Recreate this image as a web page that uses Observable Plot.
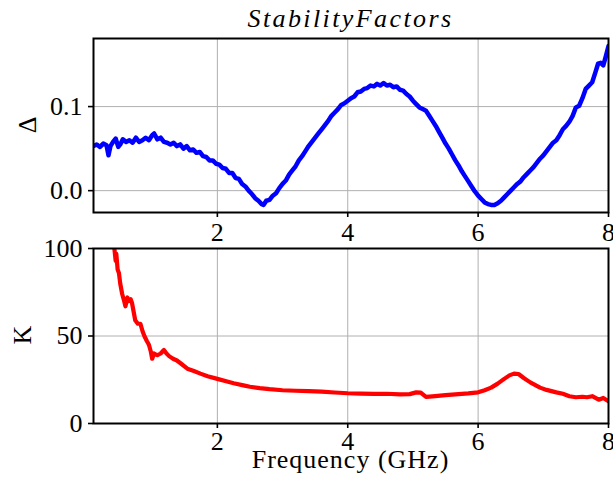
<!DOCTYPE html>
<html>
<head>
<meta charset="utf-8">
<script src="https://cdn.jsdelivr.net/npm/d3@7"></script>
<script src="https://cdn.jsdelivr.net/npm/@observablehq/plot@0.6"></script>
<style>
  html, body { margin: 0; padding: 0; background: #fff; }
  #chart { position: relative; width: 613px; height: 493px; overflow: hidden; color: #000; }
  #chart svg { position: absolute; left: 0; }
  #chart, #chart svg, #chart svg text, .lbl { font-family: "Liberation Serif", "Times New Roman", Tinos, "DejaVu Serif", serif !important; }
  .lbl { position: absolute; font-size: 26px; line-height: 1; white-space: nowrap; }
</style>
</head>
<body>
<div id="chart">
  <div class="lbl" id="title" style="left:93px; width:515px; top:6px; text-align:center; font-style:italic; letter-spacing:2.4px;">StabilityFactors</div>
  <div class="lbl" id="ylab1" style="left:28px; top:125px; transform:translate(-50%,-50%) rotate(-90deg);">Δ</div>
  <div class="lbl" id="ylab2" style="left:23px; top:335px; transform:translate(-50%,-50%) rotate(-90deg);">K</div>
  <div class="lbl" id="xlab" style="left:93px; width:515px; top:447px; text-align:center; letter-spacing:1px;">Frequency (GHz)</div>
</div>
<script>
// ---- data ----
const freqDelta = [0.10,0.15,0.20,0.25,0.30,0.33,0.36,0.40,0.44,0.48,0.51,0.55,0.60,0.65,0.70,0.75,0.80,0.85,0.90,0.95,
  1.00,1.03,1.08,1.13,1.18,1.23,1.28,1.33,1.38,1.43,1.48,1.53,1.58,1.63,1.68,1.73,1.78,1.83,1.88,1.93,1.98,
  2.03,2.08,2.13,2.18,2.23,2.28,2.33,2.38,2.43,2.48,2.53,2.58,2.63,2.68,2.71,2.75,2.80,2.85,2.90,2.95,
  3.00,3.05,3.10,3.15,3.20,3.25,3.30,3.35,3.40,3.45,3.50,3.55,3.60,3.65,3.70,3.75,3.80,3.85,3.90,3.95,
  4.00,4.05,4.10,4.15,4.20,4.25,4.30,4.35,4.40,4.45,4.50,4.55,4.60,4.65,4.70,4.75,4.80,4.85,4.90,4.95,
  5.00,5.05,5.10,5.15,5.20,5.25,5.30,5.35,5.40,5.45,5.50,5.55,5.60,5.65,5.70,5.75,5.80,5.85,5.90,5.95,
  6.00,6.05,6.10,6.15,6.20,6.25,6.30,6.35,6.40,6.45,6.50,6.55,6.60,6.65,6.70,6.75,6.80,6.85,6.90,6.95,
  7.00,7.05,7.10,7.15,7.20,7.25,7.30,7.35,7.40,7.45,7.50,7.55,7.60,7.65,7.70,7.75,7.80,7.84,7.88,7.92,7.96,8.00];
const delta = [0.053,0.055,0.052,0.056,0.054,0.042,0.053,0.058,0.062,0.052,0.055,0.061,0.058,0.060,0.057,0.063,0.058,0.060,0.063,0.060,
  0.066,0.068,0.061,0.063,0.058,0.057,0.055,0.057,0.053,0.055,0.050,0.053,0.048,0.049,0.045,0.046,0.041,0.040,0.036,0.036,0.032,
  0.031,0.027,0.026,0.021,0.021,0.015,0.014,0.008,0.005,0.000,-0.004,-0.009,-0.012,-0.016,-0.017,-0.012,-0.011,-0.006,-0.003,0.003,
  0.008,0.012,0.019,0.024,0.029,0.036,0.041,0.047,0.053,0.058,0.063,0.068,0.073,0.078,0.083,0.089,0.093,0.097,0.102,0.104,
  0.107,0.110,0.112,0.117,0.118,0.121,0.122,0.125,0.124,0.127,0.125,0.128,0.125,0.126,0.123,0.124,0.120,0.119,0.115,0.112,
  0.107,0.103,0.099,0.097,0.095,0.089,0.083,0.077,0.070,0.063,0.056,0.050,0.043,0.036,0.030,0.023,0.017,0.011,0.005,-0.001,
  -0.006,-0.010,-0.014,-0.016,-0.017,-0.017,-0.015,-0.012,-0.008,-0.004,0.000,0.004,0.008,0.011,0.016,0.020,0.024,0.028,0.033,0.038,
  0.042,0.047,0.052,0.057,0.060,0.066,0.073,0.077,0.082,0.089,0.099,0.101,0.110,0.121,0.125,0.129,0.141,0.151,0.152,0.149,0.160,0.172];

const freqK = [0.40,0.42,0.44,0.45,0.47,0.49,0.51,0.54,0.57,0.59,0.62,0.64,0.67,0.69,0.72,0.74,0.78,0.82,0.85,0.88,0.92,0.95,0.98,
  1.00,1.03,1.08,1.13,1.18,1.22,1.26,1.32,1.38,1.45,1.54,1.64,1.74,1.85,2.00,2.15,2.25,2.40,2.50,2.65,2.80,
  3.00,3.20,3.40,3.60,3.80,4.00,4.20,4.40,4.60,4.80,4.95,5.05,5.12,5.20,5.30,5.50,5.70,5.85,
  6.00,6.10,6.20,6.30,6.40,6.48,6.55,6.62,6.70,6.80,6.95,7.05,7.20,7.30,7.40,7.50,7.60,7.67,7.75,7.85,7.92,8.00];
const kValues = [108,100,93,97,88,86,80,74,70,67,72,70,71,69,63,59,57,57,53,50,47,45,41,
  37,40,39,40,42,40,38.5,37,36,34,31.3,30,28.5,27,25.5,24,23,21.8,21,20.2,19.6,
  19,18.7,18.5,18.2,17.7,17.3,17.1,16.9,17,16.6,16.8,17.8,17.6,15.2,15.5,16.2,16.8,17.2,
  17.8,19,20.5,22.8,25.5,27.5,28.5,28.3,26,23.5,20.5,19.2,17.8,17,15.6,15,15.3,15,15.6,13.6,14.6,12.7];

const xTicks = [2, 4, 6, 8];
const deltaTicks = [0, 0.1];
const kTicks = [0, 50, 100];

const deltaRows = freqDelta.map((f, i) => ({f, v: delta[i]}));
const kRows = freqK.map((f, i) => ({f, v: kValues[i]}));

const serif = "'Liberation Serif', 'Times New Roman', Tinos, 'DejaVu Serif', serif";
const common = {
  width: 613, height: 250,
  marginLeft: 93, marginRight: 5, marginTop: 38,
  style: {fontFamily: serif, fontSize: "26px", background: "transparent", color: "#000", overflow: "visible"}
};
const gridColor = "#b0b0b0";

const topPlot = Plot.plot({
  ...common,
  marginBottom: 38,
  x: {domain: [0.1, 8]},
  y: {domain: [-0.026, 0.181]},
  marks: [
    Plot.gridX(xTicks.filter(d => d < 8), {stroke: gridColor, strokeOpacity: 1, strokeWidth: 1}),
    Plot.gridY(deltaTicks, {stroke: gridColor, strokeOpacity: 1, strokeWidth: 1}),
    Plot.line(deltaRows, {x: "f", y: "v", stroke: "#0000ff", strokeWidth: 4.5, clip: true, strokeLinejoin: "round", strokeLinecap: "round"}),
    Plot.frame({stroke: "#000", strokeWidth: 2}),
    Plot.axisX(xTicks, {tickSize: 5, tickPadding: 5, strokeWidth: 1.6, label: null, tickFormat: d => String(d), fontFamily: serif}),
    Plot.axisY(deltaTicks, {tickSize: 5, tickPadding: 6, strokeWidth: 1.6, label: null, tickFormat: d3.format(".1f"), fontFamily: serif})
  ]
});

const botPlot = Plot.plot({
  ...common,
  marginBottom: 37,
  x: {domain: [0.1, 8]},
  y: {domain: [0, 100]},
  marks: [
    Plot.gridX(xTicks.filter(d => d < 8), {stroke: gridColor, strokeOpacity: 1, strokeWidth: 1}),
    Plot.gridY([50], {stroke: gridColor, strokeOpacity: 1, strokeWidth: 1}),
    Plot.line(kRows, {x: "f", y: "v", stroke: "#ff0000", strokeWidth: 4.2, clip: true, strokeLinejoin: "round", strokeLinecap: "round"}),
    Plot.frame({stroke: "#000", strokeWidth: 2}),
    Plot.axisX(xTicks, {tickSize: 5, tickPadding: 3, strokeWidth: 1.6, label: null, tickFormat: d => String(d), fontFamily: serif}),
    Plot.axisY(kTicks, {tickSize: 5, tickPadding: 6, strokeWidth: 1.6, label: null, tickFormat: d => String(d), fontFamily: serif})
  ]
});

const chart = document.getElementById("chart");
topPlot.style.top = "0px";
botPlot.style.top = "210px";
chart.appendChild(topPlot);
chart.appendChild(botPlot);
</script>
</body>
</html>
